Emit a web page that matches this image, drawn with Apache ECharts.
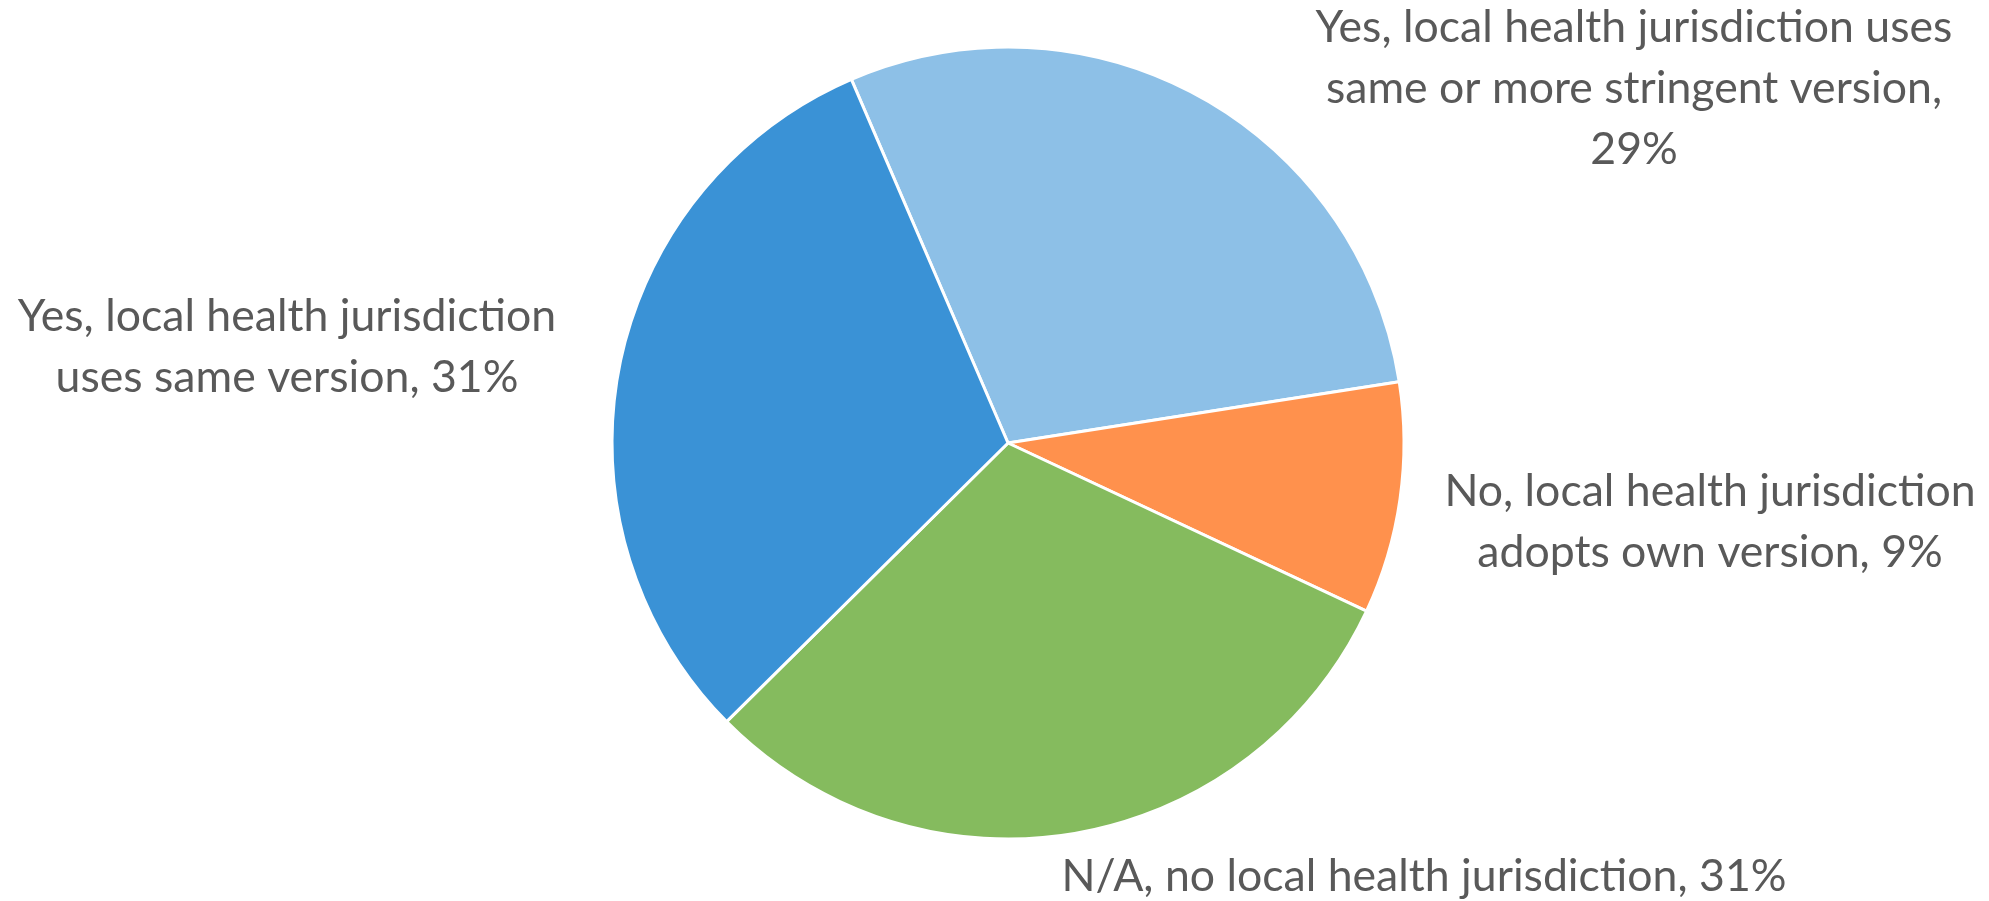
<!DOCTYPE html>
<html>
<head>
<meta charset="utf-8">
<script src="https://cdn.jsdelivr.net/npm/echarts@6/dist/echarts.min.js"></script>
<style>
  html, body { margin: 0; padding: 0; background: #ffffff; }
  #chart { width: 1989px; height: 901px; }
</style>
</head>
<body>
<div id="chart"></div>
<script>
// Slices in clockwise order starting at the top-left boundary
const categories = [
  'Yes, local health jurisdiction uses\nsame or more stringent version',
  'No, local health jurisdiction\nadopts own version',
  'N/A, no local health jurisdiction',
  'Yes, local health jurisdiction\nuses same version'
];
const values = [29.0, 9.45, 30.6, 30.95];
const percentSeparators = [',\n', ', ', ', ', ', '];
const colors = ['#8DC0E7', '#FF914D', '#85BB5E', '#3A92D6'];

// label anchor (center of the text block), layout only
const labelPos = [[1634, 89], [1710, 522], [1424, 877], [287, 347]];

const chart = echarts.init(document.getElementById('chart'), null, { renderer: 'canvas' });
chart.setOption({
  animation: false,
  backgroundColor: '#ffffff',
  series: [{
    type: 'pie',
    center: [1008, 443],
    radius: 396,
    startAngle: 113.3,
    clockwise: true,
    avoidLabelOverlap: false,
    data: categories.map((c, i) => ({ name: c, value: values[i], itemStyle: { color: colors[i] } })),
    itemStyle: { borderColor: '#ffffff', borderWidth: 3 },
    label: {
      show: true,
      position: 'outside',
      fontFamily: 'Lato',
      fontSize: 44.6,
      lineHeight: 61,
      color: '#595959',
      formatter: p => p.name + percentSeparators[p.dataIndex] + Math.round(p.percent) + '%'
    },
    labelLine: { show: false },
    labelLayout: p => ({
      x: labelPos[p.dataIndex][0],
      y: labelPos[p.dataIndex][1],
      align: 'center',
      verticalAlign: 'middle'
    }),
    emphasis: { disabled: true }
  }]
});
</script>
</body>
</html>
